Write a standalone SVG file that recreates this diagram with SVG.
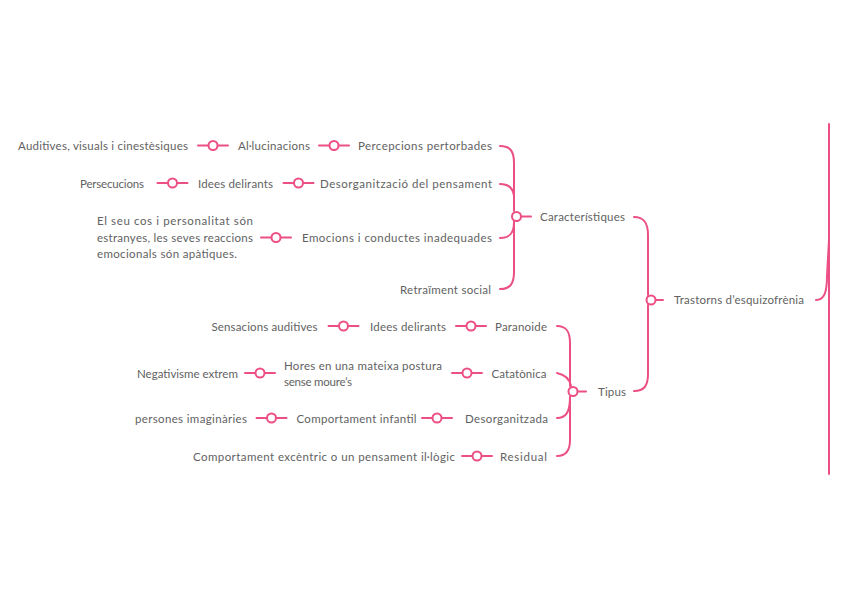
<svg xmlns="http://www.w3.org/2000/svg" xmlns:xlink="http://www.w3.org/1999/xlink" width="848" height="599" viewBox="0 0 848 599">
<style>
text{font-family:Lato,"Open Sans","Liberation Sans",sans-serif;font-size:11.5px;fill:#626262}
.ln{fill:none;stroke:#ec4f86;stroke-width:2;stroke-linecap:round}
.dot{fill:#fff;stroke:#ec4f86;stroke-width:2}
</style>
<defs>
<g id="lk">
<line class="ln" x1="-15" y1="0" x2="15" y2="0"/>
<circle class="dot" cx="0" cy="0" r="4.5"/>
</g>
</defs>
<rect width="848" height="599" fill="#fff"/>
<g id="connectors">
<use xlink:href="#lk" x="213" y="145.5"/>
<use xlink:href="#lk" x="334" y="145.5"/>
<use xlink:href="#lk" x="172.5" y="183"/>
<use xlink:href="#lk" x="298.5" y="183"/>
<use xlink:href="#lk" x="276" y="237.5"/>
<use xlink:href="#lk" x="343.5" y="326"/>
<use xlink:href="#lk" x="471" y="326"/>
<use xlink:href="#lk" x="260" y="373"/>
<use xlink:href="#lk" x="467" y="373"/>
<use xlink:href="#lk" x="271.5" y="418"/>
<use xlink:href="#lk" x="437" y="418"/>
<use xlink:href="#lk" x="477" y="456"/>
<path class="ln" d="M500,146 C510,146 514,151 514,163 L514,211"/>
<path class="ln" d="M500,184 C508,184 513,188 514,196"/>
<path class="ln" d="M500,238 C510,238 514,233 514,222"/>
<path class="ln" d="M500,289 C510,289 514,284 514,272 L514,221"/>
<line class="ln" x1="521" y1="216.5" x2="531" y2="216.5"/>
<circle class="dot" cx="516.5" cy="216.5" r="4.5"/>
<path class="ln" d="M634,217 C644,217 648,223 648,235 L648,295"/>
<path class="ln" d="M634,391 C644,391 648,386 648,374 L648,305"/>
<line class="ln" x1="655" y1="300" x2="663" y2="300"/>
<circle class="dot" cx="651" cy="300" r="4.5"/>
<path class="ln" d="M557,326 C566,326 570,331 570,343 L570,386"/>
<path class="ln" d="M557,373 C566,375 570,380 571,386"/>
<path class="ln" d="M557,418 C566,418 570,412 570,397"/>
<path class="ln" d="M557,456 C566,456 570,451 570,440 L570,397"/>
<line class="ln" x1="578" y1="391.5" x2="586" y2="391.5"/>
<circle class="dot" cx="573" cy="391.5" r="4.5"/>
<path class="ln" d="M816,300 C824,300 827,293 827,276 L829,240"/>
<line class="ln" x1="829" y1="124" x2="829" y2="474"/>
</g>
<g id="n-root"><text x="674" y="304" textLength="130" lengthAdjust="spacing">Trastorns d’esquizofrènia</text></g>
<g id="n-caract"><text x="540" y="221" textLength="85" lengthAdjust="spacing">Característiques</text></g>
<g id="n-tipus"><text x="598" y="396" textLength="28" lengthAdjust="spacing">Tipus</text></g>
<g id="n-percep"><text x="358" y="150" textLength="134" lengthAdjust="spacing">Percepcions pertorbades</text></g>
<g id="n-allu"><text x="238" y="150" textLength="72" lengthAdjust="spacing">Al·lucinacions</text></g>
<g id="n-audi"><text x="18" y="150" textLength="170" lengthAdjust="spacing">Auditives, visuals i cinestèsiques</text></g>
<g id="n-desorg"><text x="320" y="187.5" textLength="172" lengthAdjust="spacing">Desorganització del pensament</text></g>
<g id="n-idees1"><text x="198" y="187.5" textLength="75" lengthAdjust="spacing">Idees delirants</text></g>
<g id="n-perse"><text x="80" y="187.5" textLength="64" lengthAdjust="spacing">Persecucions</text></g>
<g id="n-emoc"><text x="302" y="242" textLength="190" lengthAdjust="spacing">Emocions i conductes inadequades</text></g>
<g id="n-cos"><text x="97" y="225" textLength="156" lengthAdjust="spacing">El seu cos i personalitat són</text><text x="97" y="241.5" textLength="156" lengthAdjust="spacing">estranyes, les seves reaccions</text><text x="97" y="257.5" textLength="140" lengthAdjust="spacing">emocionals són apàtiques.</text></g>
<g id="n-retr"><text x="400" y="294" textLength="91" lengthAdjust="spacing">Retraïment social</text></g>
<g id="n-paran"><text x="495" y="330.5" textLength="52" lengthAdjust="spacing">Paranoide</text></g>
<g id="n-idees2"><text x="370" y="330.5" textLength="76" lengthAdjust="spacing">Idees delirants</text></g>
<g id="n-sens"><text x="211.5" y="330.5" textLength="106" lengthAdjust="spacing">Sensacions auditives</text></g>
<g id="n-catat"><text x="491.5" y="377.5" textLength="55" lengthAdjust="spacing">Catatònica</text></g>
<g id="n-hores"><text x="284" y="370" textLength="158" lengthAdjust="spacing">Hores en una mateixa postura</text><text x="284" y="385.5" textLength="68" lengthAdjust="spacing">sense moure’s</text></g>
<g id="n-negat"><text x="137" y="377.5">Negativisme extrem</text></g>
<g id="n-desorgz"><text x="465" y="422.5" textLength="83" lengthAdjust="spacing">Desorganitzada</text></g>
<g id="n-infant"><text x="296.5" y="422.5" textLength="120" lengthAdjust="spacing">Comportament infantil</text></g>
<g id="n-perso"><text x="135" y="422.5" textLength="112" lengthAdjust="spacing">persones imaginàries</text></g>
<g id="n-resid"><text x="500" y="460.5" textLength="47" lengthAdjust="spacing">Residual</text></g>
<g id="n-compexc"><text x="193" y="460.5" textLength="262" lengthAdjust="spacing">Comportament excèntric o un pensament il·lògic</text></g>
</svg>
